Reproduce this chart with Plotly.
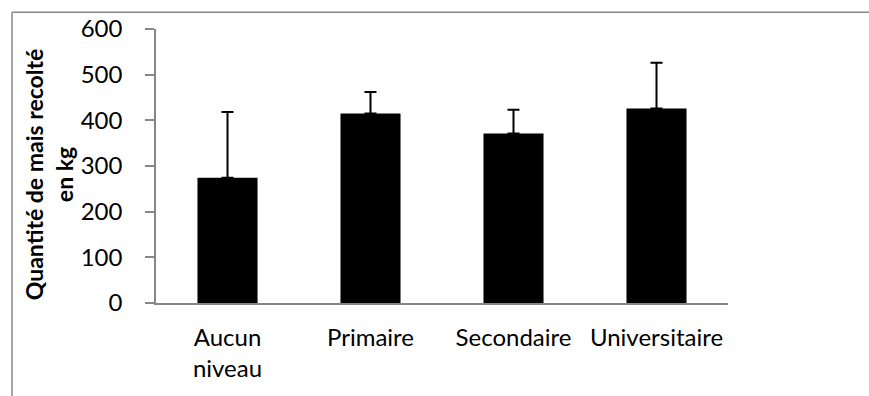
import plotly.graph_objects as go

categories = ["Aucun<br>niveau", "Primaire", "Secondaire", "Universitaire"]
values = [274, 415, 371, 426]
errors = [144, 47, 52, 100]
zeros = [0, 0, 0, 0]
y_ticks = [0, 100, 200, 300, 400, 500, 600]

FONT = "Lato"
GRAY = "#878787"

fig = go.Figure()
fig.add_trace(go.Bar(
    x=categories, y=values,
    marker=dict(color="black", line=dict(width=0)),
    error_y=dict(type="data", symmetric=False, array=errors, arrayminus=zeros,
                 color="black", thickness=2, width=6),
    width=0.42,
))

fig.update_layout(
    width=869, height=396,
    margin=dict(l=156, r=141, t=29, b=93),
    paper_bgcolor="white", plot_bgcolor="white",
    showlegend=False,
    font=dict(family=FONT, size=24, color="black"),
    xaxis=dict(showline=True, linecolor=GRAY, linewidth=1.5, ticks="",
               showgrid=False, ticklabelstandoff=12, automargin=False,
               tickfont=dict(family=FONT, size=24, color="black")),
    yaxis=dict(range=[0, 600], tickvals=y_ticks, showline=True, linecolor=GRAY,
               linewidth=1.5, ticks="outside", ticklen=9, tickcolor=GRAY, tickwidth=1.5,
               showgrid=False, zeroline=False, ticklabelstandoff=18, automargin=False,
               tickfont=dict(family=FONT, size=24, color="black")),
    shapes=[
        dict(type="line", xref="paper", yref="paper", x0=-0.2517, x1=1.3, y0=1.0614, y1=1.0614,
             line=dict(color=GRAY, width=1.5)),
        dict(type="line", xref="paper", yref="paper", x0=-0.2517, x1=-0.2517, y0=-0.4, y1=1.0614,
             line=dict(color=GRAY, width=1.5)),
    ],
    annotations=[
        dict(text="<b>Quantité de mais recolté<br>en kg</b>", xref="paper", yref="paper",
             x=-0.187, y=0.47, xanchor="center", yanchor="middle", textangle=-90,
             showarrow=False, font=dict(family=FONT, size=23, color="black")),
    ],
)

fig.write_html("out.html", post_script="document.body.style.margin='0';",
               config={"displayModeBar": False})
